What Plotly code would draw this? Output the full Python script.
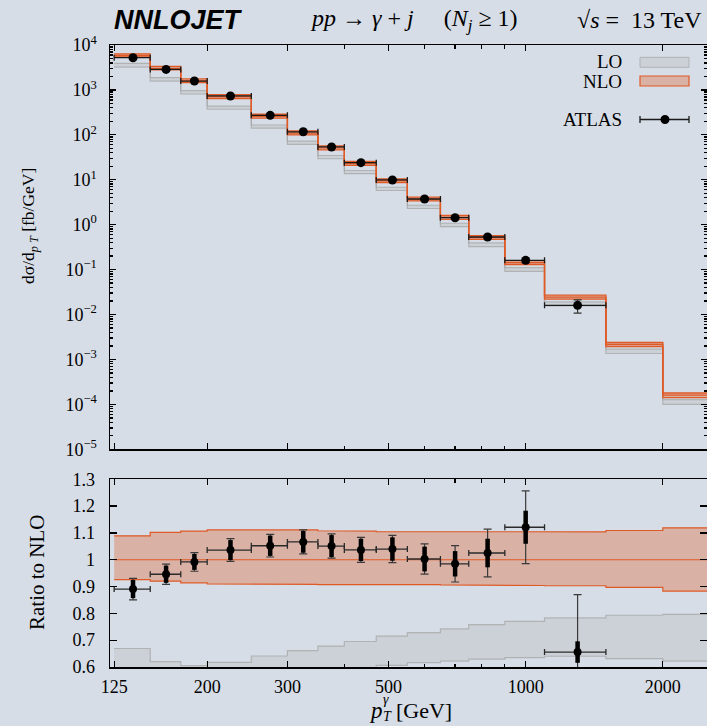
import math
import plotly.graph_objects as go

# ---------------- data ----------------
bin_edges = [125, 150, 175, 200, 250, 300, 350, 400, 470, 550, 650, 750, 900, 1100, 1500, 2000, 2500]

nlo_central = [5850, 3030, 1590, 708, 258.5, 109.7, 51.1, 23.15, 9.52, 3.72, 1.452, 0.519,
               0.1436, 0.0244, 0.00215, 0.000160]
nlo_up_ratio = [1.089, 1.102, 1.107, 1.111, 1.111, 1.111, 1.108, 1.107, 1.105, 1.105, 1.104,
                1.104, 1.103, 1.104, 1.109, 1.119]
nlo_dn_ratio = [0.926, 0.920, 0.914, 0.910, 0.909, 0.908, 0.907, 0.909, 0.907, 0.907, 0.906,
                0.906, 0.904, 0.903, 0.897, 0.883]
lo_up_ratio = [0.669, 0.620, 0.605, 0.617, 0.641, 0.661, 0.678, 0.695, 0.715, 0.728, 0.742,
               0.758, 0.770, 0.783, 0.793, 0.796]
lo_dn_ratio = [0.55, 0.52, 0.51, 0.525, 0.545, 0.56, 0.575, 0.59, 0.606, 0.616, 0.622,
               0.629, 0.635, 0.640, 0.631, 0.622]

atlas_xs = [5210, 2866, 1577, 733.5, 272, 117, 53.7, 24.0, 9.9, 3.73, 1.43, 0.532, 0.161, 0.016]
atlas_tot_rel = [0.045, 0.040, 0.035, 0.041, 0.040, 0.042, 0.043, 0.045, 0.049, 0.056, 0.069,
                 0.087, 0.121, 0.327]
atlas_stat_rel = [0.038, 0.034, 0.030, 0.036, 0.036, 0.038, 0.039, 0.040, 0.042, 0.046, 0.048,
                  0.052, 0.055, 0.061]

x_major = [125, 200, 300, 500, 1000, 2000]
x_major_text = ["125", "200", "300", "500", "1000", "2000"]
x_minor = [400, 600, 700, 800, 900]
ratio_ticks = [0.6, 0.7, 0.8, 0.9, 1.0, 1.1, 1.2, 1.3]
ratio_ticktext = ["0.6", "0.7", "0.8", "0.9", "1", "1.1", "1.2", "1.3"]
y_decades = list(range(-5, 5))

# ---------------- styling ----------------
BG = "#d6dde6"
ORANGE = "#e05a26"
ORANGE_FILL = "rgba(222,100,50,0.36)"
GREY_LINE = "rgba(165,165,165,0.75)"
GREY_FILL = "rgba(185,185,185,0.33)"
SERIF = "Liberation Serif"
NB = "\u00a0"

W, H = 707, 726
ML, MR, MT, MB = 110, 0, 45, 59
PW, PH = W - ML - MR, H - MT - MB


def px_x(p):
    return (p - ML) / PW


def px_y(p):
    return (H - MB - p) / PH


nb = len(bin_edges) - 1


def step(vals):
    xs, ys = [], []
    for i in range(len(vals)):
        xs += [bin_edges[i], bin_edges[i + 1]]
        ys += [vals[i], vals[i]]
    return xs, ys


def band(up, dn):
    xu, yu = step(up)
    xd, yd = step(dn)
    return xu + xd[::-1] + [xu[0]], yu + yd[::-1] + [yu[0]]


nlo_up = [c * r for c, r in zip(nlo_central, nlo_up_ratio)]
nlo_dn = [c * r for c, r in zip(nlo_central, nlo_dn_ratio)]
lo_up = [c * r for c, r in zip(nlo_central, lo_up_ratio)]
lo_dn = [c * r for c, r in zip(nlo_central, lo_dn_ratio)]

nd = len(atlas_xs)
xc = [(bin_edges[i] + bin_edges[i + 1]) / 2 for i in range(nd)]
ex_plus = [bin_edges[i + 1] - xc[i] for i in range(nd)]
ex_minus = [xc[i] - bin_edges[i] for i in range(nd)]
ratio = [atlas_xs[i] / nlo_central[i] for i in range(nd)]

fig = go.Figure()

# ---------- top panel ----------
bx, by = band(lo_up, lo_dn)
fig.add_trace(go.Scatter(x=bx, y=by, fill="toself", fillcolor=GREY_FILL, mode="lines",
                         line=dict(width=0), xaxis="x", yaxis="y", hoverinfo="skip"))
for arr in (lo_up, lo_dn):
    sx, sy = step(arr)
    fig.add_trace(go.Scatter(x=sx, y=sy, mode="lines", line=dict(color=GREY_LINE, width=1.2),
                             xaxis="x", yaxis="y", hoverinfo="skip"))
bx, by = band(nlo_up, nlo_dn)
fig.add_trace(go.Scatter(x=bx, y=by, fill="toself", fillcolor=ORANGE_FILL, mode="lines",
                         line=dict(width=0), xaxis="x", yaxis="y", hoverinfo="skip"))
for arr in (nlo_up, nlo_dn, nlo_central):
    sx, sy = step(arr)
    fig.add_trace(go.Scatter(x=sx, y=sy, mode="lines", line=dict(color=ORANGE, width=1.3),
                             xaxis="x", yaxis="y", hoverinfo="skip"))
fig.add_trace(go.Scatter(
    x=xc, y=atlas_xs, mode="markers", marker=dict(color="black", size=9),
    error_x=dict(type="data", symmetric=False, array=ex_plus, arrayminus=ex_minus,
                 color="#1a1a1a", thickness=1.3, width=3),
    error_y=dict(type="data", array=[a * r for a, r in zip(atlas_xs, atlas_tot_rel)],
                 color="#333333", thickness=1.2, width=4),
    xaxis="x", yaxis="y", hoverinfo="skip"))

# ---------- ratio panel ----------
bx, by = band(lo_up_ratio, lo_dn_ratio)
fig.add_trace(go.Scatter(x=bx, y=by, fill="toself", fillcolor=GREY_FILL, mode="lines",
                         line=dict(width=0), xaxis="x2", yaxis="y2", hoverinfo="skip"))
for arr in (lo_up_ratio, lo_dn_ratio):
    sx, sy = step(arr)
    fig.add_trace(go.Scatter(x=sx, y=sy, mode="lines", line=dict(color=GREY_LINE, width=1.2),
                             xaxis="x2", yaxis="y2", hoverinfo="skip"))
bx, by = band(nlo_up_ratio, nlo_dn_ratio)
fig.add_trace(go.Scatter(x=bx, y=by, fill="toself", fillcolor=ORANGE_FILL, mode="lines",
                         line=dict(width=0), xaxis="x2", yaxis="y2", hoverinfo="skip"))
for arr in (nlo_up_ratio, nlo_dn_ratio, [1.0] * nb):
    sx, sy = step(arr)
    fig.add_trace(go.Scatter(x=sx, y=sy, mode="lines", line=dict(color=ORANGE, width=1.2),
                             xaxis="x2", yaxis="y2", hoverinfo="skip"))
fig.add_trace(go.Scatter(
    x=xc, y=ratio, mode="markers", marker=dict(color="black", size=0.1),
    error_x=dict(type="data", symmetric=False, array=ex_plus, arrayminus=ex_minus,
                 color="#2a2a2a", thickness=1.3, width=3),
    error_y=dict(type="data", array=[r * e for r, e in zip(ratio, atlas_tot_rel)],
                 color="#3a3a3a", thickness=1.2, width=4),
    xaxis="x2", yaxis="y2", hoverinfo="skip"))
fig.add_trace(go.Scatter(
    x=xc, y=ratio, mode="markers", marker=dict(color="black", size=8),
    error_y=dict(type="data", array=[r * e for r, e in zip(ratio, atlas_stat_rel)],
                 color="black", thickness=4.5, width=0),
    xaxis="x2", yaxis="y2", hoverinfo="skip"))

xr = [math.log10(122.4), math.log10(2500)]
axis_common = dict(showline=True, linecolor="black", linewidth=1.5, mirror="ticks",
                   ticks="inside", tickcolor="black", showgrid=False, zeroline=False,
                   automargin=False,
                   tickfont=dict(family=SERIF, size=18, color="black"))

fig.update_layout(
    width=W, height=H, showlegend=False,
    margin=dict(l=ML, r=MR, t=MT, b=MB, autoexpand=False),
    paper_bgcolor=BG, plot_bgcolor=BG,
    xaxis=dict(type="log", range=xr, domain=[0, 1], anchor="y", showticklabels=False,
               tickvals=x_major, ticklen=6, tickwidth=1.3,
               minor=dict(tickvals=x_minor, ticks="inside", ticklen=3.5, tickcolor="black"),
               **axis_common),
    yaxis=dict(type="log", range=[-5, 4], domain=[0.350, 1], anchor="x",
               tickvals=[10.0 ** k for k in y_decades],
               ticktext=["10<sup>%s</sup>" % (str(k).replace("-", "−")) for k in y_decades],
               ticklen=6, tickwidth=1.3, ticklabelstandoff=8,
               minor=dict(tickvals=[m * 10.0 ** k for k in range(-5, 4) for m in range(2, 10)],
                          ticks="inside", ticklen=3, tickcolor="black"),
               **axis_common),
    xaxis2=dict(type="log", range=xr, domain=[0, 1], anchor="y2",
                tickvals=x_major, ticktext=x_major_text, ticklen=6, tickwidth=1.3,
                ticklabelstandoff=3,
                minor=dict(tickvals=x_minor, ticks="inside", ticklen=3.5, tickcolor="black"),
                **axis_common),
    yaxis2=dict(range=[0.6, 1.3], domain=[0, 0.3018], anchor="x2",
                tickvals=ratio_ticks, ticktext=ratio_ticktext, ticklen=7, tickwidth=1.3,
                ticklabelstandoff=10,
                **axis_common),
)

ann = []
ann.append(dict(text="<b><i>NNLOJET</i></b>", x=px_x(112), y=px_y(20), xref="paper",
                yref="paper", xanchor="left", yanchor="middle", showarrow=False,
                font=dict(family="Liberation Sans", size=27, color="black")))
ann.append(dict(text="<i>pp</i> → <i>γ</i> + <i>j</i>" + NB * 5 + "(<i>N<sub>j</sub></i> ≥ 1)",
                x=px_x(414), y=px_y(20), xref="paper", yref="paper", xanchor="center",
                yanchor="middle", showarrow=False,
                font=dict(family=SERIF, size=24, color="black")))
ann.append(dict(text="√<i>s</i>" + NB + "=" + NB + " 13 TeV", x=px_x(704), y=px_y(20),
                xref="paper", yref="paper", xanchor="right", yanchor="middle",
                showarrow=False, font=dict(family=SERIF, size=24, color="black")))
ann.append(dict(text="dσ/d<sub><i>p T</i></sub> [fb/GeV]", x=px_x(29), y=px_y(226),
                xref="paper", yref="paper", textangle=-90, xanchor="center",
                yanchor="middle", showarrow=False,
                font=dict(family=SERIF, size=17.5, color="black")))
ann.append(dict(text="Ratio to NLO", x=px_x(37), y=px_y(572), xref="paper", yref="paper",
                textangle=-90, xanchor="center", yanchor="middle", showarrow=False,
                font=dict(family=SERIF, size=21, color="black")))
ann.append(dict(text="<i>p</i>", x=px_x(376), y=px_y(710), xref="paper", yref="paper",
                xanchor="center", yanchor="middle", showarrow=False,
                font=dict(family=SERIF, size=23, color="black")))
ann.append(dict(text="<i>γ</i>", x=px_x(386), y=px_y(699), xref="paper", yref="paper",
                xanchor="center", yanchor="middle", showarrow=False,
                font=dict(family=SERIF, size=14, color="black")))
ann.append(dict(text="<i>T</i>", x=px_x(387), y=px_y(716), xref="paper", yref="paper",
                xanchor="center", yanchor="middle", showarrow=False,
                font=dict(family=SERIF, size=14, color="black")))
ann.append(dict(text="[GeV]", x=px_x(394), y=px_y(710), xref="paper", yref="paper",
                xanchor="left", yanchor="middle", showarrow=False,
                font=dict(family=SERIF, size=22, color="black")))
# legend texts
for label, yy in (("LO", 62), ("NLO", 81.5), ("ATLAS", 119.5)):
    ann.append(dict(text=label, x=px_x(624), y=px_y(yy), xref="paper", yref="paper",
                    xanchor="right", yanchor="middle", showarrow=False,
                    font=dict(family=SERIF, size=19, color="black")))

shapes = []
shapes.append(dict(type="rect", xref="paper", yref="paper", x0=px_x(640), x1=px_x(689),
                   y0=px_y(67.3), y1=px_y(57.3), fillcolor=GREY_FILL,
                   line=dict(color=GREY_LINE, width=1)))
shapes.append(dict(type="rect", xref="paper", yref="paper", x0=px_x(640), x1=px_x(689),
                   y0=px_y(86), y1=px_y(76), fillcolor=ORANGE_FILL,
                   line=dict(color=ORANGE, width=1.2)))
shapes.append(dict(type="line", xref="paper", yref="paper", x0=px_x(640), x1=px_x(689),
                   y0=px_y(119.5), y1=px_y(119.5), line=dict(color="#1a1a1a", width=1.3)))
for xx in (640, 689):
    shapes.append(dict(type="line", xref="paper", yref="paper", x0=px_x(xx), x1=px_x(xx),
                       y0=px_y(116), y1=px_y(123), line=dict(color="#1a1a1a", width=1.3)))
shapes.append(dict(type="circle", xref="paper", yref="paper", x0=px_x(660.5), x1=px_x(669.5),
                   y0=px_y(124), y1=px_y(115), fillcolor="black", line=dict(color="black", width=0)))

fig.update_layout(annotations=ann, shapes=shapes)
fig.write_html(
    "out.html",
    config={"displayModeBar": False, "staticPlot": True},
    post_script="document.documentElement.style.margin='0';document.body.style.margin='0';"
                "document.body.style.overflow='hidden';document.body.style.background='%s';" % BG,
)
